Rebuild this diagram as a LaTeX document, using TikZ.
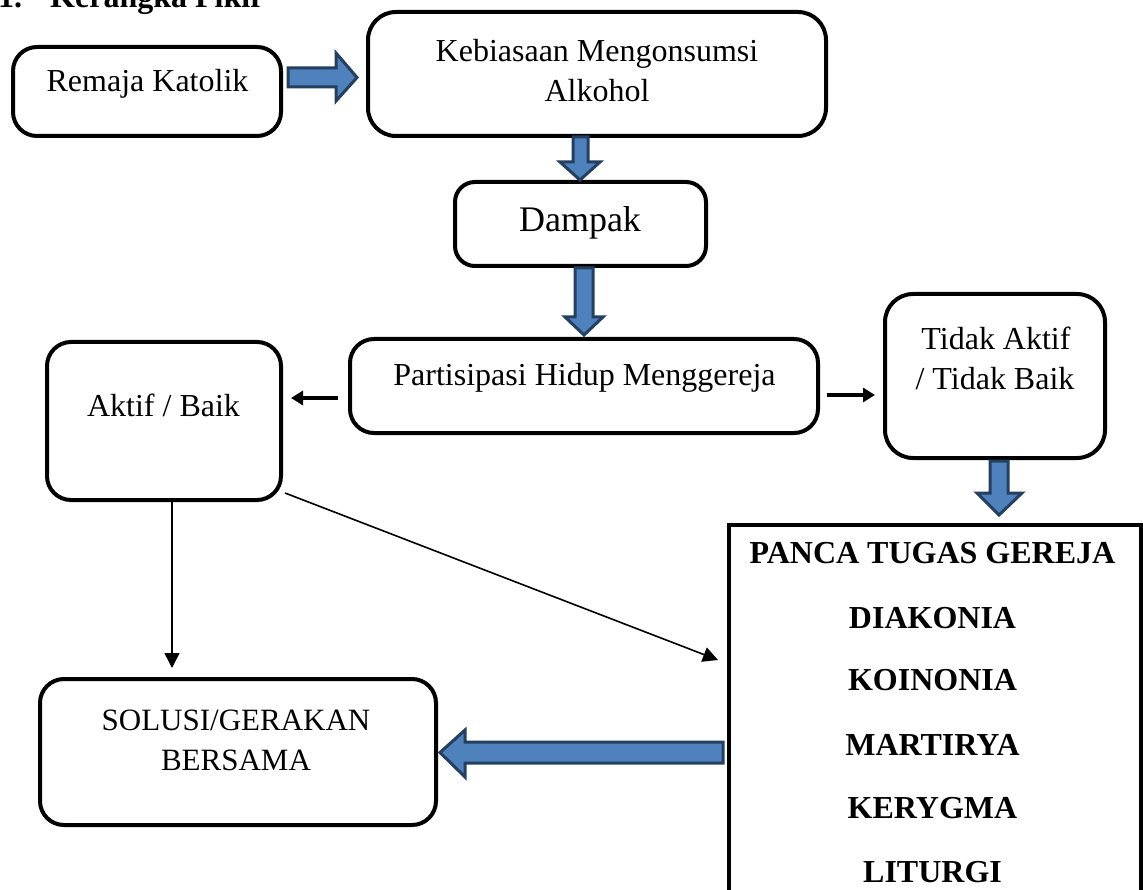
\documentclass[tikz,border=0pt]{standalone}
\usepackage{fontspec}
\setmainfont{Liberation Serif}
\usetikzlibrary{arrows.meta,calc}
\definecolor{arrowfill}{RGB}{79,129,189}
\definecolor{arrowline}{RGB}{36,63,96}
\begin{document}
\begin{tikzpicture}[x=1pt,y=-1pt,
  box/.style={draw=black,line width=4pt,rounded corners=24pt,inner sep=0pt},
  sqbox/.style={draw=black,line width=4pt,inner sep=0pt},
  txt/.style={font=\fontsize{32}{40}\selectfont,anchor=base,inner sep=0pt},
  btxt/.style={font=\fontsize{32}{40}\selectfont\bfseries,anchor=base,inner sep=0pt},
  blockarrow/.style={fill=arrowfill,draw=arrowline,line width=3pt,line join=miter},
  thickarrow/.style={line width=4pt,-{Triangle[length=12pt,width=14pt]}},
  thinarrow/.style={line width=1.6pt,-{Triangle[length=15pt,width=15pt]}}]
\fill[white] (0,0) rectangle (1143,890);
\useasboundingbox (0,0) rectangle (1143,890);

% header (cut off at the top)
\node[btxt,anchor=base west] (hdr1) at (-2,8) {1.};
\node[btxt,anchor=base west] (hdr2) at (50,8) {Kerangka Pikir};

% boxes
\node[box,minimum width=268pt,minimum height=89pt] (rem) at (147,91.5) {};
\node[box,minimum width=458pt,minimum height=124pt,rounded corners=28pt] (keb) at (597,74) {};
\node[box,minimum width=251pt,minimum height=84pt,rounded corners=20pt] (dam) at (580.5,224) {};
\node[box,minimum width=468pt,minimum height=94pt] (par) at (584,386) {};
\node[box,minimum width=234pt,minimum height=158pt] (akt) at (164,421) {};
\node[box,minimum width=220pt,minimum height=164pt,rounded corners=28pt] (tid) at (995,376) {};
\node[sqbox,minimum width=412pt,minimum height=400pt,anchor=north west] (pan) at (727,523) {};
\node[box,minimum width=396pt,minimum height=146pt] (sol) at (238,752) {};

% texts
\node[txt] (t-rem) at (147.5,92) {Remaja Katolik};
\node[txt] (t-keb1) at (597,62) {Kebiasaan Mengonsumsi};
\node[txt] (t-keb2) at (597,102) {Alkohol};
\node[txt,font=\fontsize{36}{44}\selectfont] (t-dam) at (580,232) {Dampak};
\node[txt] (t-par) at (584.5,385) {Partisipasi Hidup Menggereja};
\node[txt] (t-akt) at (163.5,417) {Aktif / Baik};
\node[txt] (t-tid1) at (996,350) {Tidak Aktif};
\node[txt] (t-tid2) at (995,389) {/ Tidak Baik};
\node[btxt] (p0) at (932.5,563) {PANCA TUGAS GEREJA};
\node[btxt] (p1) at (932.5,628) {DIAKONIA};
\node[btxt] (p2) at (932.5,690) {KOINONIA};
\node[btxt] (p3) at (932.5,755) {MARTIRYA};
\node[btxt] (p4) at (932.5,818) {KERYGMA};
\node[btxt] (p5) at (932.5,882) {LITURGI};
\node[txt,font=\fontsize{31}{39}\selectfont] (t-sol1) at (236,730) {SOLUSI/GERAKAN};
\node[txt,font=\fontsize{31}{39}\selectfont] (t-sol2) at (236,770) {BERSAMA};

% block arrows
\draw[blockarrow] (288,68) -- (336,68) -- (336,53) -- (357,77.5) -- (336,101) -- (336,87) -- (288,87) -- cycle;
\draw[blockarrow] (573,137) -- (588,137) -- (588,162) -- (600,162) -- (580,180) -- (560,162) -- (573,162) -- cycle;
\draw[blockarrow] (575,268) -- (593,268) -- (593,317) -- (603,317) -- (584,335) -- (565,317) -- (575,317) -- cycle;
\draw[blockarrow] (990,461) -- (1008,461) -- (1008,493) -- (1022,493) -- (999,515) -- (977,493) -- (990,493) -- cycle;
\draw[blockarrow] (723,742) -- (465,742) -- (465,730) -- (440,752.5) -- (465,777) -- (465,763) -- (723,763) -- cycle;

% thin connectors
\draw[thickarrow] ([shift={(-10pt,-12pt)}]par.west) coordinate (pl) -- ($(akt.east |- pl)+(8,0)$);
\draw[thickarrow] ([shift={(7pt,-9pt)}]par.east) coordinate (pr) -- ($(tid.west |- pr)+(-8,0)$);
\draw[thinarrow] ([xshift=8pt]akt.south) coordinate (av) -- ($(av |- sol.north)+(0,-9)$);
\draw[thinarrow] ([shift={(2pt,9pt)}]akt.south east) -- ($(pan.west)+(-9,-65)$);
\end{tikzpicture}
\end{document}
